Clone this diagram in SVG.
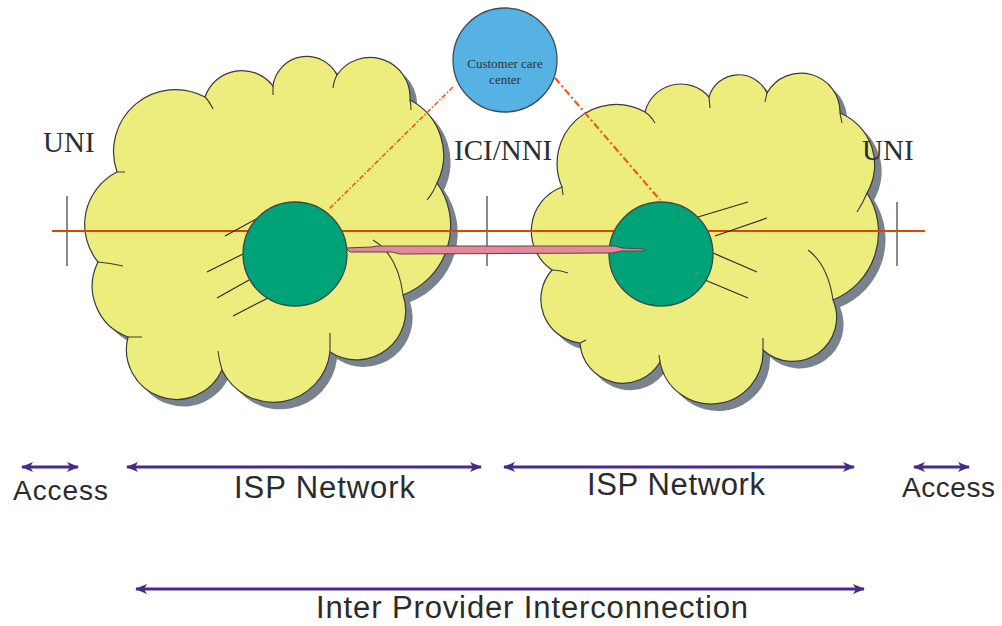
<svg xmlns="http://www.w3.org/2000/svg" width="1002" height="626" viewBox="0 0 1002 626">
  <style>
    .cloud { fill: #eded7e; stroke: #3a3a3a; stroke-width: 1.2; }
    .shadow { fill: #78838d; }
    .tail { fill: none; stroke: #3a3a3a; stroke-width: 1.1; }
    .router { fill: #00a277; stroke: #3d4a44; stroke-width: 1.3; }
    .spoke { stroke: #2b2b2b; stroke-width: 1.2; }
    .tick { stroke: #8a8a8a; stroke-width: 2; }
    .iface { font-family: "Liberation Serif", "Times New Roman", serif; font-size: 29px; fill: #2a2e33; }
    .span { stroke: #4a2a88; stroke-width: 3; fill: none; marker-start: url(#head); marker-end: url(#head); }
    .spanlbl { font-family: "Comic Sans MS", "Liberation Sans", sans-serif; font-size: 31px; fill: #2b2b2b; }
    .spanlbl.small { font-size: 28px; }
    .mgmt { fill: none; stroke: #ee5a1c; }
  </style>
  <defs>
    <marker id="head" viewBox="0 0 12 10" refX="11" refY="5" markerWidth="12" markerHeight="10" markerUnits="userSpaceOnUse" orient="auto-start-reverse">
      <path d="M0,0 L12,5 L0,10 L3,5 Z" fill="#4a2a88"/>
    </marker>
    <path id="leftCloudShape" d="M117,172 A62,62 0 0 1 205,97 A39,39 0 0 1 273,86 A34,34 0 0 1 337,75 A40,40 0 0 1 410,100 A62,62 0 0 1 437,183 A74,74 0 0 1 403,295 A49,49 0 0 1 330,352 A57,57 0 0 1 222,370 A50,50 0 0 1 128,337 A54,54 0 0 1 98,262 A59,59 0 0 1 117,172 Z"/>
    <path id="rightCloudShape" d="M562,187 A59,59 0 0 1 645,112 A37,37 0 0 1 709,97 A31,31 0 0 1 767,93 A39,39 0 0 1 840,113 A56,56 0 0 1 867,193 A73,73 0 0 1 833,300 A44,44 0 0 1 763,350 A52,52 0 0 1 660,362 A43,43 0 0 1 580,343 A44,44 0 0 1 552,270 A47,47 0 0 1 562,187 Z"/>
  </defs>

  <rect width="1002" height="626" fill="#ffffff"/>

  <!-- provider clouds -->
  <g id="isp-network-left">
    <use href="#leftCloudShape" class="shadow" transform="translate(7,7)"/>
    <use href="#leftCloudShape" class="cloud"/>
    <path class="tail" d="M117,172 L125,172 M205,97 Q209,101 213,109 M273,86 L273,95 M337,75 Q334,80 333,88 M410,100 Q411,104 411,110 M437,183 Q433,193 427,200 M373,240 Q398,255 403,295 M330,352 L330,333 M222,370 Q219,360 218,351 M128,337 L142,337 M98,262 Q110,263 123,266"/>
  </g>
  <g id="isp-network-right">
    <use href="#rightCloudShape" class="shadow" transform="translate(7,7)"/>
    <use href="#rightCloudShape" class="cloud"/>
    <path class="tail" d="M562,187 L563,195 M645,112 Q651,116 655,123 M709,97 L710,108 M767,93 L765,102 M840,113 L842,123 M867,193 Q863,203 857,212 M808,250 Q828,265 833,300 M763,350 L763,338 M660,362 L659,355 M580,343 L586,340 M552,270 Q560,270 568,273"/>
  </g>

  <!-- interface reference points -->
  <g id="interfaces">
    <line class="tick" x1="67" y1="196" x2="67" y2="266"/>
    <line class="tick" x1="487" y1="196" x2="487" y2="266"/>
    <line class="tick" x1="897" y1="202" x2="897" y2="266"/>
    <text class="iface" x="43" y="152">UNI</text>
    <text class="iface" x="454" y="160">ICI/NNI</text>
    <text class="iface" x="862" y="160">UNI</text>
  </g>

  <g id="connectors">
    <!-- end-to-end path -->
    <line x1="52" y1="231" x2="925" y2="231" stroke="#e04400" stroke-width="2.2"/>
    <!-- access spokes -->
    <g id="spokes">
      <line class="spoke" x1="258" y1="218" x2="225" y2="236"/>
      <line class="spoke" x1="243" y1="254" x2="207" y2="272"/>
      <line class="spoke" x1="249" y1="280" x2="217" y2="298"/>
      <line class="spoke" x1="268" y1="298" x2="233" y2="316"/>
      <line class="spoke" x1="698" y1="217" x2="748" y2="202"/>
      <line class="spoke" x1="715" y1="236" x2="767" y2="218"/>
      <line class="spoke" x1="713" y1="253" x2="757" y2="272"/>
      <line class="spoke" x1="705" y1="280" x2="748" y2="298"/>
    </g>
  </g>

  <!-- edge routers -->
  <g id="router-left">
    <circle class="router" cx="295" cy="254" r="52"/>
  </g>
  <g id="router-right">
    <circle class="router" cx="661" cy="254" r="52"/>
  </g>

  <g id="connectors-top">
    <!-- inter-provider link -->
    <polygon points="346,248 372,247 377,246 615,246 622,248 644,249 644,251 622,251 612,253 400,254 392,252 350,252" fill="#e8869a" stroke="#4a4a4a" stroke-width="1"/>
    <!-- management links to the care center -->
    <line class="mgmt" x1="453" y1="87" x2="328" y2="210" stroke-width="1.6" stroke-dasharray="5 2 1.5 2"/>
    <line class="mgmt" x1="555" y1="78" x2="660" y2="200" stroke-width="2.2" stroke-dasharray="7 3 2 3"/>
  </g>

  <g id="customer-care-center">
    <circle cx="505" cy="60" r="52" fill="#56b2e2" stroke="#3f4a52" stroke-width="1.3"/>
    <text x="505" y="68" text-anchor="middle" font-family="Liberation Serif, serif" font-size="13" fill="#2f3438">Customer care</text>
    <text x="505" y="84" text-anchor="middle" font-family="Liberation Serif, serif" font-size="13" fill="#2f3438">center</text>
  </g>

  <!-- scope spans -->
  <g id="spans">
    <line class="span" x1="22" y1="467" x2="78" y2="467"/>
    <line class="span" x1="127" y1="467" x2="481" y2="467"/>
    <line class="span" x1="504" y1="467" x2="854" y2="467"/>
    <line class="span" x1="914" y1="467" x2="969" y2="467"/>
    <line class="span" x1="136" y1="589" x2="864" y2="589"/>
    <text class="spanlbl small" x="13" y="500" textLength="95">Access</text>
    <text class="spanlbl" x="234" y="498" textLength="181">ISP Network</text>
    <text class="spanlbl" x="587" y="495" textLength="178">ISP Network</text>
    <text class="spanlbl small" x="902" y="497" textLength="93">Access</text>
    <text class="spanlbl" x="316" y="618" textLength="432">Inter Provider Interconnection</text>
  </g>
</svg>
